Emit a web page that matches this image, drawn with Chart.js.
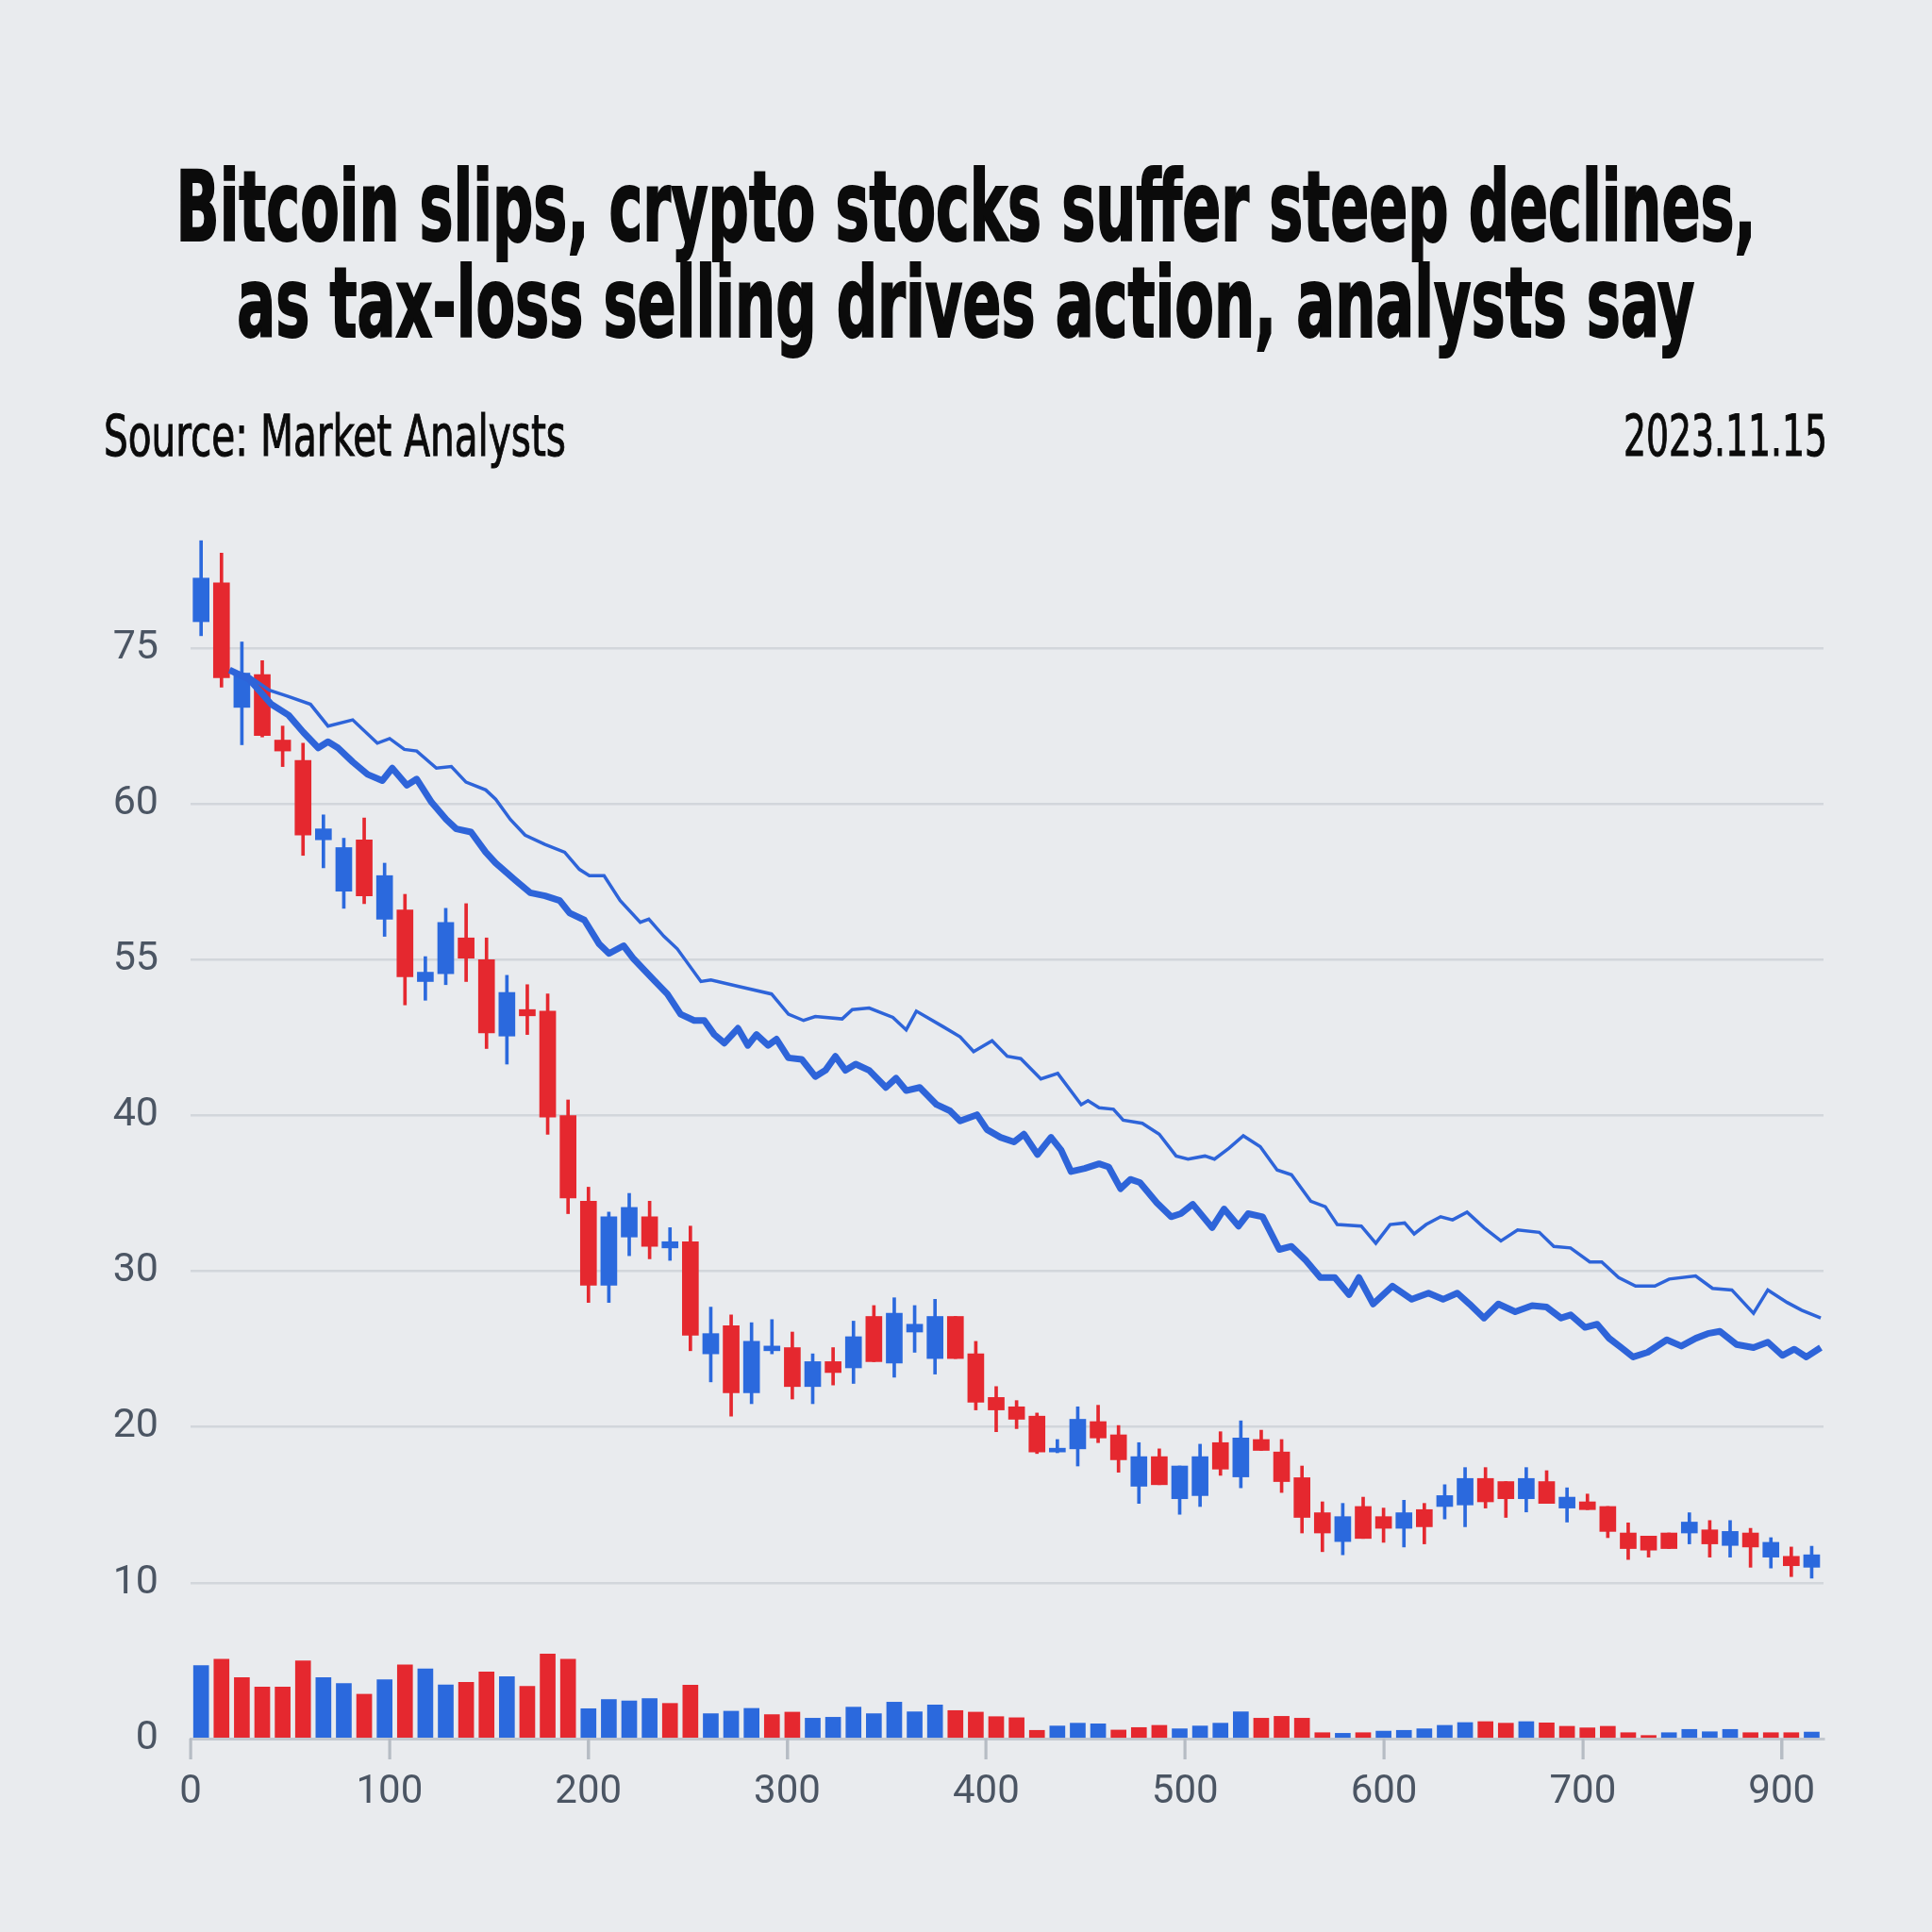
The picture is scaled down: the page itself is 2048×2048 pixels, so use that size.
<!DOCTYPE html>
<html>
<head>
<meta charset="utf-8">
<script src="https://cdn.jsdelivr.net/npm/chart.js@4.4.1/dist/chart.umd.min.js"></script>
<style>
  html, body { margin: 0; padding: 0; background: #e9ebee; }
  #page { position: relative; width: 2048px; height: 2048px; overflow: hidden; background: #e9ebee; }
  #myChart { position: absolute; left: 0; top: 0; }
  .txt { position: absolute; white-space: nowrap; color: #0b0b0b; line-height: 1;
         font-family: "Liberation Sans Narrow", "DejaVu Sans Condensed", "Liberation Sans", sans-serif; }
  .title { font-size: 104px; font-weight: bold; transform-origin: center top; -webkit-text-stroke: 2px #0b0b0b; }
  .sub { font-size: 60px; -webkit-text-stroke: 1px #0b0b0b; }
</style>
</head>
<body>
<div id="page">
  <canvas id="myChart" width="2048" height="2048"></canvas>
  <div class="txt title" id="t1" data-w="1675" data-cx="1024" style="top:167px">Bitcoin slips, crypto stocks suffer steep declines,</div>
  <div class="txt title" id="t2" data-w="1545" data-cx="1024" style="top:269px">as tax-loss selling drives action, analysts say</div>
  <div class="txt sub" id="src" data-w="490" style="top:432px; left:110px; transform-origin:left top">Source: Market Analysts</div>
  <div class="txt sub" id="date" data-w="216" style="top:432px; right:111px; transform-origin:right top">2023.11.15</div>
</div>
<script>
// candles (one every ~10.25 units on the x axis)
const candleOpen  = [71.7,74.2,66.2,68.3,64.1,62.8,57.7,54.4,57.7,52.6,53.2,48.6,49.1,51.4,50.0,45.1,46.8,46.7,40.0,34.5,
                     29.1,32.2,33.5,31.5,31.9,24.7,26.5,22.2,24.9,25.1,22.6,24.2,23.8,27.1,24.1,26.1,24.4,27.1,24.7,21.9,
                     21.3,20.7,18.4,18.6,20.35,19.5,16.2,18.1,15.4,15.6,19.0,16.8,19.2,18.4,16.75,14.5,12.65,14.9,14.25,13.5,
                     14.7,14.9,15.0,16.7,16.5,15.4,16.5,14.8,15.2,14.9,13.2,13.0,13.2,13.2,13.4,12.4,13.2,11.65,11.7,11.0]
const candleHigh  = [76.9,76.1,70.4,69.2,65.0,63.9,59.3,57.8,59.1,56.2,54.2,50.2,53.3,53.6,51.4,49.0,48.4,47.8,41.0,35.4,
                     33.8,35.0,34.5,32.8,32.9,27.7,27.2,26.7,26.9,26.1,24.7,25.1,26.8,27.8,28.3,27.8,28.2,27.1,25.5,22.6,
                     21.7,20.9,19.2,21.3,21.4,20.1,19.0,18.6,17.5,18.9,19.7,20.4,19.8,19.2,17.5,15.2,15.1,15.5,14.8,15.3,
                     15.1,16.3,17.4,17.4,16.5,17.4,17.2,16.1,15.7,14.9,13.85,13.0,13.2,14.5,14.0,14.0,13.5,12.9,12.3,12.35]
const candleLow   = [70.8,67.5,63.8,64.3,62.4,56.7,55.9,53.3,53.6,51.5,47.1,47.4,48.4,48.6,44.3,43.3,45.2,38.8,33.7,28.0,
                     28.0,31.0,30.8,30.7,24.9,22.9,20.7,21.5,24.7,21.8,21.5,22.7,22.8,24.2,23.2,24.8,23.4,24.4,21.1,19.7,
                     19.9,18.3,18.35,17.5,19.0,17.1,15.1,16.3,14.4,14.9,16.9,16.1,18.5,15.8,13.2,12.0,11.8,12.85,12.6,12.3,
                     12.5,14.1,13.6,14.8,14.2,14.55,15.1,13.9,14.7,12.9,11.5,11.65,12.2,12.5,11.65,11.65,11.0,10.95,10.4,10.3]
const candleClose = [74.5,68.1,68.4,64.4,63.4,58.0,58.4,57.2,54.1,55.4,48.9,49.2,52.4,50.1,45.3,47.9,46.4,39.9,34.7,29.1,
                     33.5,34.1,31.6,31.9,25.9,26.0,22.2,25.5,25.2,22.6,24.2,23.5,25.8,24.2,27.3,26.6,27.1,24.4,21.6,21.1,
                     20.5,18.4,18.6,20.5,19.3,17.9,18.1,16.3,17.5,18.1,17.3,19.3,18.5,16.5,14.2,13.2,14.25,12.85,13.5,14.5,
                     13.6,15.6,16.7,15.2,15.4,16.7,15.1,15.5,14.7,13.3,12.2,12.1,12.2,13.9,12.5,13.3,12.3,12.6,11.1,11.8]

// volume bars under the candles, 1 = blue, 0 = red
const volume   = [4.69,5.09,3.92,3.31,3.31,4.99,3.92,3.54,2.85,3.78,4.73,4.48,3.45,3.62,4.28,3.98,3.35,5.43,5.09,1.92,
                  2.51,2.42,2.57,2.26,3.43,1.60,1.76,1.94,1.54,1.70,1.31,1.37,2.02,1.60,2.34,1.72,2.16,1.80,1.70,1.41,
                  1.34,0.53,0.81,0.99,0.95,0.55,0.71,0.85,0.63,0.81,0.99,1.72,1.31,1.43,1.31,0.38,0.34,0.38,0.48,0.53,
                  0.63,0.85,1.03,1.09,0.99,1.09,1.01,0.79,0.69,0.79,0.38,0.20,0.38,0.59,0.44,0.59,0.38,0.38,0.38,0.42]
const volumeUp = [1,0,0,0,0,0,1,1,0,1,0,1,1,0,0,1,0,0,0,1,
                  1,1,1,0,0,1,1,1,0,0,1,1,1,1,1,1,1,0,0,0,
                  0,0,1,1,1,0,0,0,1,1,1,1,0,0,0,0,1,0,1,1,
                  1,1,1,0,0,1,0,0,0,0,0,0,1,1,1,1,0,0,0,1]

// the two blue lines, [x, y]
const upperLine = [[19.6,68.6],[29.5,68.2],[39.6,67.3],[49.3,66.9],[60.3,66.4],[69.1,65.0],[81.5,65.4],[93.9,63.9],[100.1,64.2],[107.5,63.5],
  [113.7,63.4],[123.6,62.3],[131.1,62.4],[138.5,61.4],[148.4,60.9],[153.4,60.3],[160.8,59.0],[168.2,58.0],[178.2,57.4],[188.1,56.9],
  [195.5,55.8],[200.5,55.4],[207.9,55.4],[216,53.8],[226.1,52.4],[230.4,52.6],[238,51.5],[244.7,50.7],[256.6,48.6],[261.6,48.7],
  [275.2,48.3],[292.1,47.8],[300.6,46.5],[308.2,46.1],[314.1,46.35],[327.6,46.2],[332.7,46.8],[341.2,46.9],[353.1,46.3],[359.8,45.5],
  [364.9,46.7],[378.4,45.7],[386.9,45.05],[393.7,44.1],[403,44.8],[410.6,43.8],[417.4,43.65],[427.5,42.35],[436,42.7],[447.8,40.7],
  [451.2,40.95],[456.8,40.5],[464,40.4],[468.9,39.7],[478.5,39.5],[487,38.8],[495.5,37.4],[501.5,37.2],[510,37.4],[514.8,37.2],
  [522.1,37.9],[529.3,38.7],[537.8,38.0],[546.3,36.5],[553.5,36.2],[563.2,34.5],[570.5,34.15],[576.5,33.0],[588.6,32.9],[595.9,31.8],
  [603.1,33.0],[610.4,33.1],[615.2,32.4],[621.2,33.0],[628.5,33.5],[634.5,33.3],[641.8,33.8],[650.3,32.8],[658.8,31.95],[667.2,32.65],
  [678.1,32.5],[685.4,31.6],[693.8,31.5],[703.5,30.6],[709.5,30.6],[718,29.6],[726.5,29.05],[736.2,29.05],[743.4,29.5],[756.7,29.7],
  [765.2,28.9],[774.9,28.8],[785.8,27.3],[793,28.8],[802.7,28.0],[810,27.5],[819.6,27.0]]
const lowerLine = [[19.6,68.6],[29.5,68.0],[40.6,66.4],[49.3,65.7],[56.7,64.6],[64.2,63.6],[69.1,64.0],[74.1,63.6],[81.5,62.7],[89,61.9],
  [96.4,61.5],[101.4,62.3],[108.8,61.2],[113.7,61.6],[121.2,60.1],[128.6,59.0],[133.6,58.4],[141,58.2],[148.4,56.9],[153.4,56.2],
  [163.3,55.1],[170.8,54.3],[178.2,54.1],[185.6,53.8],[190.6,53.0],[198,52.55],[205.5,51.0],[210.4,50.4],[217.7,50.9],[222.8,50.05],
  [232.9,48.7],[239.7,47.8],[246.4,46.5],[253.2,46.1],[258.3,46.1],[263.3,45.2],[268.4,44.65],[275.2,45.6],[280.2,44.5],[284.5,45.2],
  [290.4,44.5],[294.6,44.9],[300.6,43.7],[307.3,43.6],[314.1,42.5],[319.2,42.9],[324.2,43.8],[329.3,42.9],[334.4,43.3],[341.2,42.9],
  [349.6,41.8],[354.7,42.4],[359.8,41.6],[366.6,41.8],[375.1,40.7],[381.8,40.3],[386.9,39.65],[395.4,40.05],[400.4,39.1],[407.2,38.6],
  [414,38.3],[419,38.8],[425.8,37.5],[432.6,38.6],[437.6,37.8],[442.7,36.4],[449.5,36.6],[456.8,36.9],[461.6,36.7],[467.6,35.3],
  [472.5,35.9],[477.3,35.7],[485.8,34.4],[493,33.5],[497.9,33.7],[503.9,34.3],[513.6,32.8],[519.6,34.0],[526.9,32.9],[531.7,33.7],
  [539,33.5],[547.4,31.4],[553.5,31.6],[560.7,30.7],[568,29.6],[575.3,29.6],[582.5,28.5],[587.4,29.6],[594.6,27.9],[604.3,29.05],
  [614,28.2],[622.4,28.6],[629.7,28.2],[636.9,28.6],[643,27.9],[650.3,27.0],[657.5,27.9],[666,27.4],[674.5,27.8],[681.8,27.7],
  [689,27.0],[693.9,27.2],[701.1,26.4],[707.2,26.6],[713.2,25.7],[719.3,25.1],[725.3,24.5],[732.6,24.8],[742.2,25.6],[749.5,25.2],
  [756.8,25.7],[762.8,26.0],[768.9,26.15],[777.3,25.3],[785.8,25.1],[793,25.45],[800.3,24.6],[806.3,25.0],[812.4,24.5],[819.6,25.1]]

// axis ticks (the labels are printed as in the source picture)
const xTickValues = [0,100,200,300,400,500,600,700,800]
const xTickLabels = ['0','100','200','300','400','500','600','700','900']
const yTickValues = [0,10,20,30,40,50,60,70]
const yTickLabels = ['0','10','20','30','40','55','60','75']

const firstX = 5.3
const stepX = 10.25
const candleX = candleOpen.map((d, i) => firstX + i * stepX)

const RED = '#e5282f'
const BLUE = '#2b69dd'
const LINE_BLUE = '#2e64d9'

const candleColor = candleOpen.map((o, i) => candleClose[i] >= o ? BLUE : RED)

Chart.defaults.font.family = 'Roboto, "Liberation Sans", sans-serif'

// short tick marks under the x axis
const xTickMarks = {
    id: 'xTickMarks',
    afterDraw(chart) {
        const c = chart.ctx
        const xs = chart.scales.x
        const y0 = chart.chartArea.bottom
        c.save()
        c.strokeStyle = '#b6bcc4'
        c.lineWidth = 3
        xTickValues.forEach(v => {
            const px = Math.round(xs.getPixelForValue(v))
            c.beginPath()
            c.moveTo(px, y0)
            c.lineTo(px, y0 + 22)
            c.stroke()
        })
        c.restore()
    }
}

const ctx = document.getElementById('myChart')
new Chart(ctx, {
    type: 'bar',
    data: {
        datasets: [
            {
                type: 'line',
                data: lowerLine.map(p => ({x: p[0], y: p[1]})),
                borderColor: LINE_BLUE,
                borderWidth: 7,
                pointRadius: 0,
                tension: 0,
                borderJoinStyle: 'round',
                order: 1
            },
            {
                type: 'line',
                data: upperLine.map(p => ({x: p[0], y: p[1]})),
                borderColor: LINE_BLUE,
                borderWidth: 3.5,
                pointRadius: 0,
                tension: 0,
                order: 2
            },
            {
                // wicks
                data: candleX.map((x, i) => ({x: x, y: [candleLow[i], candleHigh[i]]})),
                backgroundColor: candleColor,
                barThickness: 3,
                grouped: false,
                order: 4
            },
            {
                // bodies
                data: candleX.map((x, i) => ({x: x, y: [candleOpen[i], candleClose[i]]})),
                backgroundColor: candleColor,
                barThickness: 17,
                minBarLength: 4,
                grouped: false,
                order: 3
            },
            {
                // volume
                data: candleX.map((x, i) => ({x: x, y: volume[i]})),
                backgroundColor: volumeUp.map(u => u ? BLUE : RED),
                barThickness: 16,
                grouped: false,
                order: 5
            }
        ]
    },
    options: {
        responsive: false,
        animation: false,
        devicePixelRatio: 1,
        layout: {
            padding: { top: 555, right: 115, left: 0, bottom: 0 }
        },
        scales: {
            x: {
                type: 'linear',
                offset: false,
                min: 0,
                max: 821,
                afterFit: (axis) => { axis.height = 205 },
                afterBuildTicks: (axis) => { axis.ticks = xTickValues.map(v => ({value: v})) },
                grid: {
                    offset: false,
                    drawOnChartArea: false,
                    drawTicks: true,
                    tickLength: 22,
                    color: '#b9bfc7',
                    lineWidth: 2.5
                },
                border: { color: '#c3c8cf', width: 3 },
                ticks: {
                    padding: 10,
                    color: '#4b5563',
                    font: { size: 42 },
                    maxRotation: 0,
                    callback: (value, index) => xTickLabels[index]
                }
            },
            y: {
                min: 0,
                max: 78,
                afterFit: (axis) => { axis.width = 202 },
                afterBuildTicks: (axis) => { axis.ticks = yTickValues.map(v => ({value: v})) },
                grid: {
                    drawTicks: false,
                    color: '#d2d6db',
                    lineWidth: 2.5
                },
                border: { display: false },
                ticks: {
                    padding: 34,
                    color: '#4b5563',
                    font: { size: 43 },
                    callback: (value, index) => yTickLabels[index]
                }
            }
        },
        plugins: {
            legend: { display: false },
            tooltip: { enabled: false }
        }
    },
    plugins: [xTickMarks]
});

// squeeze the headline texts to the widths of the original
document.querySelectorAll('.txt').forEach(el => {
    const w = el.getBoundingClientRect().width
    const target = parseFloat(el.dataset.w)
    const s = target / w
    if (el.dataset.cx) {
        el.style.left = (parseFloat(el.dataset.cx) - w / 2) + 'px'
    }
    el.style.transform = 'scaleX(' + s + ')'
})
</script>
</body>
</html>
